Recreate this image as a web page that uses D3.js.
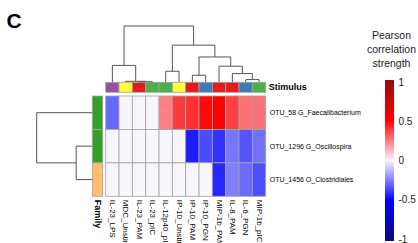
<!DOCTYPE html>
<html>
<head>
<meta charset="utf-8">
<script src="https://cdn.jsdelivr.net/npm/d3@7"></script>
<style>
	html, body { margin: 0; padding: 0; background: #fff; }
	svg { display: block; font-family: 'Liberation Sans', Arial, Helvetica, sans-serif; }
</style>
</head>
<body>
<div id="chart"></div>
<script>
// Columns in displayed order (after clustering)
var colLabels = ['IL-23_LPS', 'MDC_Unstim', 'IL-23_PAM', 'IL-23_pIC', 'IL-12p40_pIC', 'IP-10_Unstim',
	'IP-10_PAM', 'IP-10_PGN', 'MIP-1b_PAM', 'IL-8_PAM', 'IL-6_PGN', 'MIP-1b_pIC'];
var colStimulus = ['LPS', 'Unstim', 'PAM', 'pIC', 'pIC', 'Unstim', 'PAM', 'PGN', 'PAM', 'PAM', 'PGN', 'pIC'];

var rowLabels = ['OTU_58 G_Faecalibacterium', 'OTU_1296 G_Oscillospira', 'OTU_1456 O_Clostridiales'];
var rowFamily = ['Ruminococcaceae', 'Ruminococcaceae', 'Unassigned'];

// Pearson r, one array per OTU
var rFaecalibacterium = [-0.29, 0, 0, 0, 0.24, 0.38, 0.40, 0.48, 0.50, 0.37, 0.27, 0.27];
var rOscillospira = [0, 0, 0, 0, 0, 0, -0.44, -0.35, -0.40, -0.26, -0.33, -0.27];
var rClostridiales = [0, 0, 0, 0, 0, 0, 0, 0, -0.42, -0.24, -0.28, -0.34];

// hclust style merges: negative = leaf (1-based display position), positive = earlier merge
var colMerges = [[-3, -4, 0.01], [-2, 1, 0.018], [-11, -12, 0.048], [-10, 3, 0.155], [-7, -8, 0.125],
	[-5, -6, 0.196], [-9, 4, 0.286], [-1, 2, 0.30], [5, 7, 0.45], [6, 9, 0.66], [8, 10, 1.0]];
var rowMerges = [[-2, -3, 0.29], [-1, 1, 1.0]];

var legendTicks = [1, 0.5, 0, -0.5, -1];

var stimulusColors = { LPS: '#984ea3', Unstim: '#ffff33', PAM: '#e41a1c', pIC: '#4daf4a', PGN: '#377eb8' };
var familyColors = { Ruminococcaceae: '#33a02c', Unassigned: '#fdbf6f' };

var attrs = {
	svgWidth: 418,
	svgHeight: 243,
	heatLeft: 105.7,
	heatRight: 265.7,
	heatTop: 96,
	heatBottom: 196.3,
	colTreeTop: 26,
	colTreeBottom: 82.3,
	stimTop: 82.3,
	stimBottom: 92.3,
	famLeft: 92.3,
	famRight: 102.7,
	rowTreeLeft: 36.7,
	borderColor: '#a3a3a3',
	treeColor: '#555',
	rowFont: 7,
	colFont: 8
};

var values = [rFaecalibacterium, rOscillospira, rClostridiales];

var svg = d3.select('#chart').append('svg')
	.attr('width', attrs.svgWidth)
	.attr('height', attrs.svgHeight);

var x = d3.scaleBand().domain(d3.range(colLabels.length)).range([attrs.heatLeft, attrs.heatRight]);
var y = d3.scaleBand().domain(d3.range(rowLabels.length)).range([attrs.heatTop, attrs.heatBottom]);

var color = d3.scaleLinear()
	.domain([-1, -0.5, 0, 0.5, 1])
	.range(['#0b0b7a', '#0000ff', '#f8f5fd', '#ff0000', '#8e0e0e'])
	.interpolate(d3.interpolateRgb);

// Panel letter
svg.append('text')
	.attr('x', 6.5).attr('y', 28)
	.style('font-size', '21px').style('font-weight', 'bold')
	.text('C');

// Heatmap cells
var cells = [];
values.forEach(function (row, i) {
	row.forEach(function (v, j) { cells.push({ r: i, c: j, v: v }); });
});
svg.append('g').selectAll('rect').data(cells).enter().append('rect')
	.attr('x', d => x(d.c)).attr('y', d => y(d.r))
	.attr('width', x.bandwidth()).attr('height', y.bandwidth())
	.attr('fill', d => color(d.v))
	.attr('stroke', attrs.borderColor).attr('stroke-width', 0.8);

// Stimulus annotation
svg.append('g').selectAll('rect').data(colStimulus).enter().append('rect')
	.attr('x', (d, i) => x(i)).attr('y', attrs.stimTop)
	.attr('width', x.bandwidth()).attr('height', attrs.stimBottom - attrs.stimTop)
	.attr('fill', d => stimulusColors[d])
	.attr('stroke', attrs.borderColor).attr('stroke-width', 0.8);

// Family annotation
svg.append('g').selectAll('rect').data(rowFamily).enter().append('rect')
	.attr('x', attrs.famLeft).attr('y', (d, i) => y(i))
	.attr('width', attrs.famRight - attrs.famLeft).attr('height', y.bandwidth())
	.attr('fill', d => familyColors[d])
	.attr('stroke', attrs.borderColor).attr('stroke-width', 0.8);

// Dendrograms
function drawTree(merges, leafPos, heightPos, horizontal) {
	var nodes = [];
	function node(k) {
		if (k < 0) return { pos: leafPos(-k - 1), h: 0 };
		return nodes[k - 1];
	}
	var lines = [];
	merges.forEach(function (m) {
		var a = node(m[0]), b = node(m[1]);
		lines.push([a.pos, heightPos(a.h), a.pos, heightPos(m[2])]);
		lines.push([b.pos, heightPos(b.h), b.pos, heightPos(m[2])]);
		lines.push([a.pos, heightPos(m[2]), b.pos, heightPos(m[2])]);
		nodes.push({ pos: (a.pos + b.pos) / 2, h: m[2] });
	});
	svg.append('g').selectAll('line').data(lines).enter().append('line')
		.attr('x1', d => horizontal ? d[1] : d[0])
		.attr('y1', d => horizontal ? d[0] : d[1])
		.attr('x2', d => horizontal ? d[3] : d[2])
		.attr('y2', d => horizontal ? d[2] : d[3])
		.attr('stroke', attrs.treeColor).attr('stroke-width', 1);
}

var colTreeH = d3.scaleLinear().domain([0, 1]).range([attrs.colTreeBottom, attrs.colTreeTop]);
drawTree(colMerges, i => x(i) + x.bandwidth() / 2, colTreeH, false);

var rowTreeH = d3.scaleLinear().domain([0, 1]).range([attrs.famLeft, attrs.rowTreeLeft]);
drawTree(rowMerges, i => y(i) + y.bandwidth() / 2, rowTreeH, true);

// Row labels
svg.append('g').selectAll('text').data(rowLabels).enter().append('text')
	.attr('x', attrs.heatRight + 4)
	.attr('y', (d, i) => y(i) + y.bandwidth() / 2)
	.attr('dominant-baseline', 'central')
	.style('font-size', attrs.rowFont + 'px')
	.text(d => d);

// Column labels (read top to bottom)
svg.append('g').selectAll('text').data(colLabels).enter().append('text')
	.attr('transform', (d, i) => 'translate(' + (x(i) + x.bandwidth() / 2) + ',' + (attrs.heatBottom + 3.5) + ') rotate(90)')
	.attr('dominant-baseline', 'central')
	.style('font-size', attrs.colFont + 'px')
	.text(d => d);

// Annotation names
svg.append('text')
	.attr('x', attrs.heatRight + 3).attr('y', (attrs.stimTop + attrs.stimBottom) / 2)
	.attr('dominant-baseline', 'central')
	.style('font-size', '9px').style('font-weight', 'bold')
	.text('Stimulus');

svg.append('text')
	.attr('transform', 'translate(' + ((attrs.famLeft + attrs.famRight) / 2) + ',' + (attrs.heatBottom + 3.5) + ') rotate(90)')
	.attr('dominant-baseline', 'central')
	.style('font-size', '9px').style('font-weight', 'bold')
	.text('Family');

// Legend
var legend = svg.append('g');
['Pearson', 'correlation', 'strength'].forEach(function (t, i) {
	legend.append('text')
		.attr('x', 391.5).attr('y', 35 + i * 14)
		.attr('text-anchor', 'middle').attr('dominant-baseline', 'central')
		.style('font-size', '10.5px').attr('fill', '#222')
		.text(t);
});

var legendY = d3.scaleLinear().domain([-1, 1]).range([239, 82]);

var defs = svg.append('defs');
var grad = defs.append('linearGradient').attr('id', 'legend-grad')
	.attr('x1', 0).attr('y1', 1).attr('x2', 0).attr('y2', 0);
color.domain().forEach(function (v) {
	grad.append('stop')
		.attr('offset', ((v + 1) / 2 * 100) + '%')
		.attr('stop-color', color(v));
});

legend.append('rect')
	.attr('x', 385).attr('y', legendY(1) - 2)
	.attr('width', 9).attr('height', legendY(-1) - legendY(1) + 4)
	.attr('fill', 'url(#legend-grad)');

legend.selectAll('.tick-label').data(legendTicks).enter().append('text')
	.attr('class', 'tick-label')
	.attr('x', 398.5).attr('y', d => legendY(d))
	.attr('dominant-baseline', 'central')
	.style('font-size', '10px').attr('fill', '#222')
	.text(d => d);
</script>
</body>
</html>
